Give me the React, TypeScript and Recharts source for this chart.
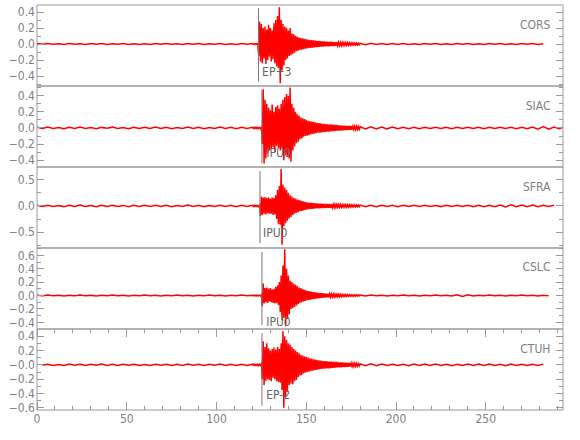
import React from "react";
import {
  LineChart,
  Line,
  XAxis,
  YAxis,
  ReferenceArea,
  ReferenceLine,
  ReferenceDot,
} from "recharts";

const seg = (a: number, b: number, step: number) => {
  const out: number[] = [];
  for (let t = a; t <= b + 1e-9; t += step) out.push(+t.toFixed(1));
  return out;
};
const TIME = [...seg(0, 117, 3), ...seg(120, 179.5, 0.5), ...seg(180, 291, 3), 293];

const STATIONS = ["CORS", "SIAC", "SFRA", "CSLC", "CTUH"];
const PICKS = ["EP+3", "IPU0", "IPU0", "IPU0", "EP-2"];
const PICK_TIMES = [123.4, 125.3, 124.2, 125.3, 125.3];

const X_TICKS = [0, 10, 20, 30, 40, 50, 60, 70, 80, 90, 100, 110, 120, 130, 140, 150, 160, 170, 180, 190, 200, 210, 220, 230, 240, 250, 260, 270, 280, 290];
const X_LABELS = [0, 50, 100, 150, 200, 250];

// y ticks per panel
const CORS_MAJOR = [0.4, 0.2, 0, -0.2, -0.4];
const CORS_MINOR = [0.3, 0.1, -0.1, -0.3, -0.5];
const CORS_LABELS = ["0.4", "0.2", "0.0", "−0.2", "−0.4"];
const SIAC_MAJOR = [0.4, 0.2, 0, -0.2, -0.4];
const SIAC_MINOR = [0.5, 0.3, 0.1, -0.1, -0.3];
const SIAC_LABELS = ["0.4", "0.2", "0.0", "−0.2", "−0.4"];
const SFRA_MAJOR = [0.5, 0, -0.5];
const SFRA_MINOR = [0.25, -0.25, -0.75];
const SFRA_LABELS = ["0.5", "0.0", "−0.5"];
const CSLC_MAJOR = [0.6, 0.4, 0.2, 0, -0.2, -0.4];
const CSLC_MINOR = [0.7, 0.5, 0.3, 0.1, -0.1, -0.3];
const CSLC_LABELS = ["0.6", "0.4", "0.2", "0.0", "−0.2", "−0.4"];
const CTUH_MAJOR = [0.4, 0.2, 0, -0.2, -0.4, -0.6];
const CTUH_MINOR = [0.3, 0.1, -0.1, -0.3, -0.5];
const CTUH_LABELS = ["0.4", "0.2", "−0.0", "−0.2", "−0.4", "−0.6"];

// traces, one value per TIME sample (pre-event 40, event+coda 120, tail 39)
const CORS = [
  .005,-.004,.006,-.003,.004,-.006,.005,-.004,.003,-.005, .006,-.004,.005,-.006,.004,-.003,.006,-.005,.004,-.006,
  .003,-.005,.006,-.004,.005,-.003,.004,-.006,.005,-.004, .006,-.005,.003,-.004,.005,-.006,.004,-.005,.006,-.004,
  .005,-.006,.004,-.005,.006,-.004,.005,-.150,.280,-.220,
  .250,-.240,.200,-.180,.220,-.250,.180,-.200,.240,-.160,
  .200,-.220,.170,-.190,.260,-.240,.300,-.280,.350,-.300,
  .460,-.490,.300,-.330,.250,-.270,.220,-.200,.200,-.180,
  .170,-.150,.200,-.140,.130,-.120,.120,-.110,.100,-.090,
  .090,-.085,.080,-.075,.075,-.070,.070,-.065,.065,-.060,
  .060,-.055,.055,-.050,.050,-.050,.048,-.045,.045,-.042,
  .042,-.040,.040,-.038,.038,-.036,.036,-.034,.034,-.032,
  .032,-.030,.031,-.029,.028,-.030,.027,-.026,.028,-.025,
  .024,-.025,.023,-.022,.024,-.021,.020,-.021,.019,-.020,
  .018,-.019,.017,-.016,.018,-.015,.016,-.015,.014,-.015,
  .013,-.014,.013,-.012,.012,-.013,.011,-.012,.011,-.010,
  .009,-.008,.008,-.007,.007,-.006,.006,-.005,.005,-.006, .004,-.005,.006,-.004,.005,-.006,.004,-.005,.006,-.004,
  .005,-.006,.004,-.005,.006,-.004,.005,-.006,.004,-.005, .006,-.004,.005,-.006,.004,null,null,null,null,
];
const SIAC = [
  .008,-.006,.010,-.007,.005,-.009,.008,-.006,.010,-.008, .006,-.009,.007,-.005,.010,-.008,.006,-.009,.008,-.007,
  .009,-.006,.010,-.008,.007,-.009,.005,-.008,.010,-.007, .008,-.009,.006,-.008,.010,-.006,.008,-.009,.007,-.008,
  .008,-.007,.009,-.006,.008,-.009,.007,-.008,.006,-.009,
  .015,-.200,.480,-.440,.350,-.380,.300,-.320,.250,-.280,
  .220,-.260,.290,-.240,.200,-.300,.260,-.220,.280,-.250,
  .240,-.280,.300,-.260,.350,-.400,.380,-.330,.420,-.360,
  .400,-.380,.500,-.420,.300,-.280,.250,-.230,.200,-.190,
  .170,-.170,.150,-.140,.130,-.130,.120,-.110,.110,-.100,
  .100,-.095,.090,-.090,.085,-.080,.080,-.075,.075,-.070,
  .070,-.065,.065,-.060,.060,-.058,.056,-.054,.052,-.050,
  .050,-.048,.049,-.046,.045,-.047,.043,-.042,.044,-.040,
  .039,-.040,.037,-.036,.038,-.034,.033,-.034,.031,-.032,
  .030,-.029,.030,-.027,.026,-.027,.025,-.024,.025,-.023,
  .022,-.023,.021,-.020,.021,-.019,.019,-.018,.018,-.017,
  .015,-.013,.014,-.012,.012,-.011,.010,-.011,.009,-.010, .008,-.009,.007,-.008,.009,-.007,.008,-.009,.007,-.008,
  .009,-.007,.008,-.009,.007,-.008,.009,-.007,.008,-.009, .007,-.010,.012,-.014,.018,-.016,.012,-.010,.009,
];
const SFRA = [
  .012,-.010,.014,-.011,.009,-.013,.012,-.010,.015,-.012, .010,-.014,.011,-.009,.013,-.012,.010,-.015,.012,-.011,
  .014,-.010,.013,-.012,.011,-.014,.009,-.012,.015,-.010, .012,-.013,.010,-.012,.014,-.011,.012,-.013,.011,-.012,
  .012,-.010,.013,-.011,.012,-.012,.010,-.013,.011,-.190,
  .180,-.170,.160,-.150,.170,-.160,.150,-.140,.160,-.150,
  .140,-.150,.160,-.170,.150,-.160,.200,-.250,.300,-.350,
  .380,-.360,.700,-.740,.400,-.380,.350,-.330,.300,-.280,
  .250,-.240,.200,-.210,.180,-.170,.150,-.150,.140,-.130,
  .120,-.120,.110,-.100,.100,-.095,.090,-.085,.080,-.075,
  .070,-.068,.065,-.063,.060,-.058,.056,-.054,.052,-.050,
  .050,-.048,.047,-.046,.045,-.044,.043,-.042,.041,-.040,
  .040,-.039,.040,-.037,.036,-.038,.035,-.034,.035,-.032,
  .031,-.032,.030,-.029,.030,-.027,.026,-.027,.025,-.024,
  .024,-.023,.023,-.022,.022,-.021,.021,-.020,.020,-.019,
  .019,-.018,.018,-.018,.017,-.017,.016,-.016,.016,-.015,
  .015,-.014,.014,-.013,.013,-.012,.012,-.013,.011,-.012, .013,-.011,.012,-.012,.010,-.013,.012,-.011,.013,-.012,
  .011,-.013,.012,-.013,.012,-.014,.016,-.018,.020,-.017, .019,-.016,.015,-.014,.013,-.012,.012,null,null,
];
const CSLC = [
  .005,-.004,.006,-.005,.004,-.006,.005,-.004,.006,-.005, .004,-.006,.005,-.004,.006,-.005,.004,-.006,.005,-.004,
  .006,-.005,.004,-.006,.005,-.004,.006,-.005,.004,-.006, .005,-.004,.006,-.005,.004,-.006,.005,-.004,.006,-.005,
  .005,-.004,.006,-.005,.004,-.006,.005,-.004,.006,-.005,
  .011,-.160,.180,-.120,.110,-.100,.120,-.110,.100,-.090,
  .110,-.100,.090,-.110,.100,-.120,.130,-.110,.150,-.140,
  .200,-.250,.300,-.370,.450,-.330,.690,-.460,.400,-.350,
  .300,-.280,.220,-.200,.200,-.190,.180,-.170,.160,-.150,
  .140,-.130,.120,-.110,.110,-.100,.095,-.090,.085,-.080,
  .075,-.070,.068,-.065,.062,-.060,.058,-.055,.053,-.050,
  .048,-.046,.044,-.042,.040,-.038,.036,-.035,.034,-.032,
  .030,-.029,.029,-.027,.026,-.027,.025,-.024,.024,-.022,
  .021,-.022,.020,-.019,.019,-.018,.017,-.018,.016,-.015,
  .015,-.014,.014,-.013,.013,-.012,.012,-.011,.011,-.010,
  .010,-.010,.009,-.009,.009,-.008,.008,-.008,.008,-.007,
  .007,-.006,.006,-.005,.005,-.006,.004,-.005,.006,-.004, .005,-.006,.004,-.005,.006,-.004,.005,-.006,.012,-.014,
  .010,-.006,.004,-.005,.006,-.004,.005,-.006,.004,-.005, .006,-.004,.005,-.006,.004,-.005,null,null,null,
];
const CTUH = [
  null,-.007,.009,-.008,.006,-.009,.010,-.007,.008,-.009, .009,-.006,.010,-.008,.007,-.009,.008,-.007,.009,-.008,
  .006,-.010,.009,-.007,.009,-.008,.007,-.009,.010,-.006, .008,-.009,.009,-.007,.010,-.008,.007,-.009,.009,-.008,
  .009,-.007,.010,-.008,.007,-.009,.008,-.010,.009,-.007,
  .019,-.200,.330,-.280,.250,-.220,.300,-.200,.230,-.210,
  .200,-.230,.220,-.180,.240,-.200,.210,-.230,.250,-.240,
  .220,-.250,.300,-.350,.470,-.600,.400,-.450,.350,-.380,
  .300,-.280,.280,-.260,.250,-.270,.220,-.230,.200,-.210,
  .180,-.170,.160,-.150,.140,-.140,.130,-.120,.120,-.110,
  .110,-.100,.100,-.095,.090,-.085,.085,-.080,.078,-.075,
  .072,-.070,.068,-.066,.064,-.062,.060,-.058,.056,-.055,
  .054,-.052,.053,-.050,.048,-.049,.046,-.045,.046,-.043,
  .042,-.041,.040,-.039,.040,-.037,.036,-.035,.034,-.035,
  .033,-.031,.030,-.031,.029,-.028,.027,-.026,.026,-.025,
  .024,-.023,.022,-.022,.021,-.020,.019,-.018,.017,-.016,
  .014,-.012,.013,-.011,.011,-.010,.009,-.010,.008,-.011, .010,-.009,.011,-.008,.010,-.010,.009,-.011,.008,-.010,
  .011,-.009,.010,-.008,.011,-.010,.009,-.011,.010,-.008, .009,-.010,.008,-.009,.010,null,null,null,null,
];

const TRACES = [CORS, SIAC, SFRA, CSLC, CTUH];
const MAJORS = [CORS_MAJOR, SIAC_MAJOR, SFRA_MAJOR, CSLC_MAJOR, CTUH_MAJOR];
const MINORS = [CORS_MINOR, SIAC_MINOR, SFRA_MINOR, CSLC_MINOR, CTUH_MINOR];
const LABELS = [CORS_LABELS, SIAC_LABELS, SFRA_LABELS, CSLC_LABELS, CTUH_LABELS];

// layout per panel
const Y_DOMAINS: [number, number][] = [
  [-0.525, 0.4875],
  [-0.484, 0.52],
  [-0.8, 0.74],
  [-0.5, 0.71],
  [-0.63, 0.5],
];
const PICK_SPAN: [number, number][] = [
  [-0.47, 0.45],
  [-0.44, 0.47],
  [-0.71, 0.66],
  [-0.44, 0.65],
  [-0.57, 0.44],
];
const PICK_LABEL_POS: [number, number][] = [
  [125.4, -0.35],
  [127.7, -0.31],
  [125.9, -0.51],
  [127.7, -0.39],
  [127.7, -0.42],
];
const NAME_Y = [0.24, 0.27, 0.36, 0.43, 0.22];

const X_MAX = 293;
const PLOT_LEFT = 37;
const PLOT_RIGHT = 563;
const PANEL_H = 81;
const PAD = 4;
const AXIS_H = 30;
const GREY = "#999";
const TEXT = "#808080";
const FONT =
  '"Liberation Sans Narrow", "DejaVu Sans Condensed", "Arial Narrow", sans-serif';

const YTick = (props: any) => {
  const { y, payload, majors, labels } = props;
  const k = majors.findIndex((m: number) => Math.abs(m - payload.value) < 1e-6);
  const len = k >= 0 ? 7 : 4;
  return (
    <g>
      <line x1={PLOT_LEFT} x2={PLOT_LEFT + len} y1={y} y2={y} stroke={GREY} shapeRendering="crispEdges" />
      <line x1={PLOT_RIGHT - len} x2={PLOT_RIGHT} y1={y} y2={y} stroke={GREY} shapeRendering="crispEdges" />
      {k >= 0 && (
        <text x={PLOT_LEFT - 2} y={y} dy="0.35em" textAnchor="end" fill={TEXT} fontSize={12} fontFamily={FONT}>
          {labels[k]}
        </text>
      )}
    </g>
  );
};

const XTick = (props: any) => {
  const { x, payload, top, bottom, last } = props;
  const major = X_LABELS.includes(payload.value);
  const len = major ? 8 : 4;
  return (
    <g>
      <line x1={x} x2={x} y1={top} y2={top + len} stroke={GREY} shapeRendering="crispEdges" />
      {last && <line x1={x} x2={x} y1={bottom - len} y2={bottom} stroke={GREY} shapeRendering="crispEdges" />}
      {last && major && (
        <text x={x} y={bottom + 12.5} textAnchor="middle" fill={TEXT} fontSize={12} fontFamily={FONT}>
          {payload.value}
        </text>
      )}
    </g>
  );
};

const Panel = ({ i }: { i: number }) => {
  const last = i === STATIONS.length - 1;
  const height = PANEL_H + 2 * PAD + (last ? AXIS_H : 0);
  const values = TRACES[i];
  const rows = TIME.map((t, j) => ({ t, v: values[j] ?? null }));
  const dom = Y_DOMAINS[i];
  const labelStyle = { fill: TEXT, fontSize: 12, fontFamily: FONT };
  const margin = { top: PAD, right: 580 - PLOT_RIGHT, bottom: PAD, left: 0 };
  const pos = { position: "absolute" as const, left: 0, top: 5 + PANEL_H * i - PAD };

  return (
    <>
      <div style={pos}>
        <LineChart width={580} height={height} data={rows} margin={margin}>
          <XAxis
            dataKey="t"
            type="number"
            domain={[0, X_MAX]}
            ticks={X_TICKS}
            interval={0}
            height={last ? AXIS_H : 0}
            axisLine={false}
            tickLine={false}
            allowDataOverflow
            tick={(p: any) => (
              <XTick {...p} top={PAD} bottom={PAD + PANEL_H} last={last} />
            )}
          />
          <YAxis
            type="number"
            domain={dom}
            ticks={[...MAJORS[i], ...MINORS[i]]}
            interval={0}
            width={PLOT_LEFT}
            axisLine={false}
            tickLine={false}
            allowDataOverflow
            tick={(p: any) => <YTick {...p} majors={MAJORS[i]} labels={LABELS[i]} />}
          />
          <ReferenceArea
            x1={0}
            x2={X_MAX}
            y1={dom[0]}
            y2={dom[1]}
            fill="none"
            stroke={GREY}
            ifOverflow="visible"
          />
          <Line
            dataKey="v"
            type="linear"
            stroke="#ff0000"
            strokeWidth={1.5}
            dot={false}
            activeDot={false}
            connectNulls={false}
            isAnimationActive={false}
          />
          <ReferenceLine
            segment={[
              { x: PICK_TIMES[i], y: PICK_SPAN[i][0] },
              { x: PICK_TIMES[i], y: PICK_SPAN[i][1] },
            ]}
            stroke="#777"
            ifOverflow="visible"
          />
        </LineChart>
      </div>
      {/* text layer on top of the trace */}
      <div style={pos}>
        <LineChart width={580} height={height} data={rows} margin={margin}>
          <XAxis dataKey="t" type="number" domain={[0, X_MAX]} height={last ? AXIS_H : 0} tick={false} axisLine={false} tickLine={false} />
          <YAxis type="number" domain={dom} width={PLOT_LEFT} tick={false} axisLine={false} tickLine={false} allowDataOverflow />
          <ReferenceDot
            x={PICK_LABEL_POS[i][0]}
            y={PICK_LABEL_POS[i][1]}
            r={0}
            fill="none"
            stroke="none"
            label={{ value: PICKS[i], position: "right", offset: 0, ...labelStyle, fill: "#666" }}
          />
          <ReferenceDot
            x={286}
            y={NAME_Y[i]}
            r={0}
            fill="none"
            stroke="none"
            label={{ value: STATIONS[i], position: "left", offset: 0, ...labelStyle }}
          />
        </LineChart>
      </div>
    </>
  );
};

export default function App() {
  const bad = TRACES.map((tr, i) => (tr.length !== TIME.length ? `${STATIONS[i]}:${tr.length}/${TIME.length}` : "")).filter(Boolean);
  return (
    <div
      style={{
        position: "absolute",
        left: 0,
        top: 0,
        width: 580,
        height: 440,
        background: "#fff",
        overflow: "hidden",
      }}
    >
      {STATIONS.map((_, i) => (
        <Panel key={i} i={i} />
      ))}
      {bad.length > 0 && (
        <div style={{ position: "absolute", left: 60, top: 425, fontSize: 10 }}>{bad.join(" ")}</div>
      )}
    </div>
  );
}
